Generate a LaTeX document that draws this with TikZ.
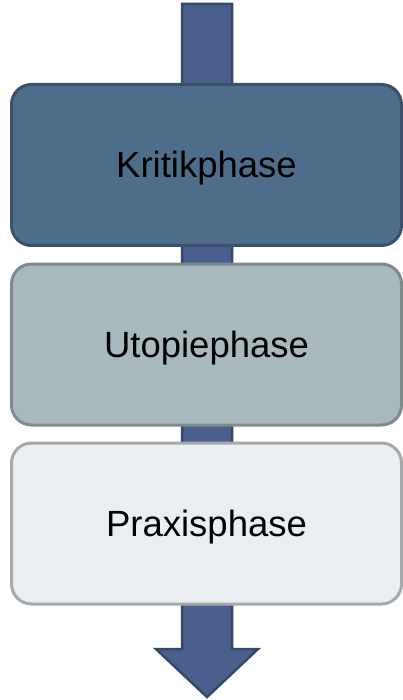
\documentclass[tikz,border=0pt]{standalone}
\usepackage{fontspec}
\setmainfont{Liberation Sans}
\definecolor{arrowfill}{HTML}{4A5F8B}
\definecolor{arrowline}{HTML}{34486B}
\definecolor{kfill}{HTML}{4F6E8B}
\definecolor{kline}{HTML}{3B5069}
\definecolor{ufill}{HTML}{A8BABE}
\definecolor{uline}{HTML}{7E8B8D}
\definecolor{pfill}{HTML}{EBEEF1}
\definecolor{pline}{HTML}{A6A9AC}
\tikzset{
  phase/.style={draw, line width=3pt, rounded corners=20pt, minimum width=390pt, minimum height=161pt, inner sep=0pt, font=\fontsize{36.5}{42}\selectfont, text=black, text height=26pt, text depth=0pt}
}
\begin{document}
\begin{tikzpicture}[x=1pt,y=-1pt]
\useasboundingbox (0,0) rectangle (402,700);
\draw[fill=arrowfill, draw=arrowline, line width=2.5pt, line join=miter]
  (182,4) -- (232,4) -- (232,649) -- (258,649) -- (207,697) -- (156,649) -- (182,649) -- cycle;
\node[phase, fill=kfill, draw=kline] (k) at (206.5,165) {Kritikphase};
\node[phase, fill=ufill, draw=uline] (u) at (206.5,344.5) {Utopiephase};
\node[phase, fill=pfill, draw=pline] (p) at (206.5,523.5) {Praxisphase};
\end{tikzpicture}
\end{document}
